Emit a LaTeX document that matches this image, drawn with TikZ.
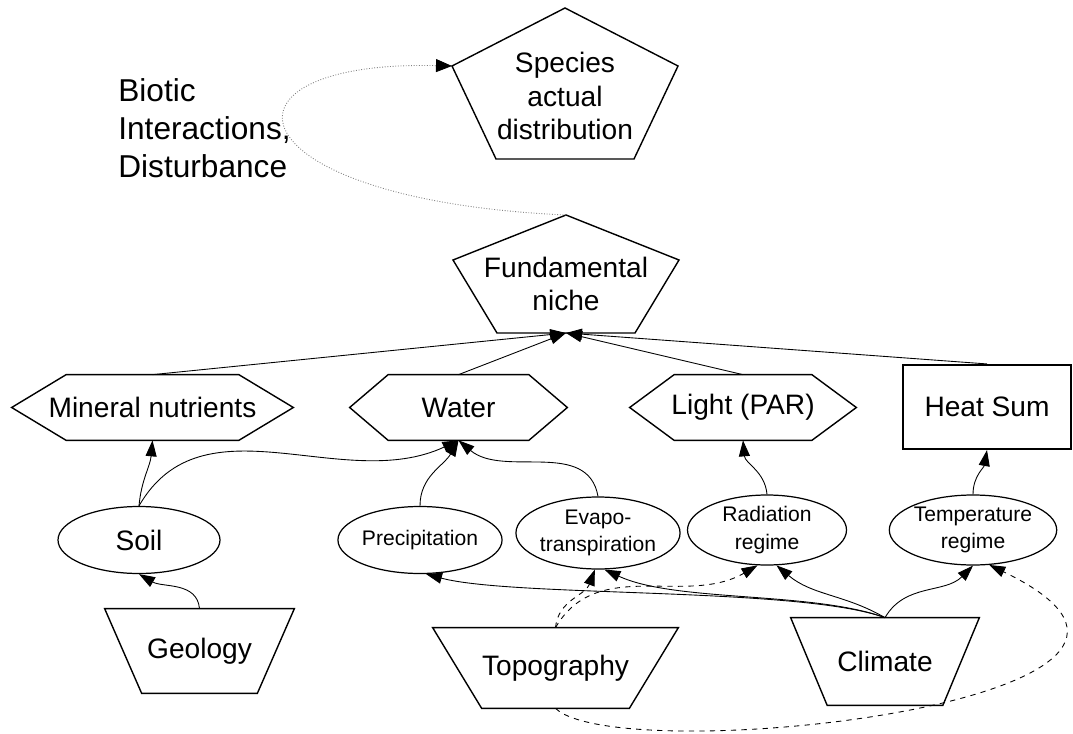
\documentclass[tikz,border=0pt]{standalone}
\usepackage{fontspec}
\setmainfont{Liberation Sans}
\usetikzlibrary{arrows.meta, shapes.geometric}

\begin{document}
\begin{tikzpicture}[
    >={Triangle[length=3.2mm, width=2.2mm]},
    every node/.style={inner sep=0pt},
    outline/.style={draw, line width=0.8pt},
    box/.style={align=center, font=\fontsize{16}{19}\selectfont},
    oval/.style={draw, line width=0.7pt, ellipse, align=center, font=\fontsize{12}{15.5}\selectfont},
    link/.style={->, line width=0.5pt},
    dlink/.style={->, line width=0.5pt, dashed},
    biotic/.style={-{Triangle[length=3.2mm, width=2.6mm, black]}, gray, densely dotted, line width=0.5pt},
]
    \useasboundingbox (0,0) rectangle (21.46,14.66);

    % Top: actual distribution and niche (pentagons)
    \node[box] (spec) at (11.30, 12.74) {Species\\actual\\distribution};
    \draw[outline, shift={(spec)}] (0,1.76) -- (2.26,0.60) -- (1.38,-1.26) -- (-1.38,-1.26) -- (-2.26,0.60) -- cycle;
    \coordinate (spec-l) at ([shift={(-2.26,0.60)}]spec.center);

    \node[box] (fund) at (11.32, 8.98) {Fundamental\\niche};
    \draw[outline, shift={(fund)}] (0,1.38) -- (2.26,0.48) -- (1.38,-0.98) -- (-1.38,-0.98) -- (-2.26,0.48) -- cycle;
    \coordinate (fund-t) at ([shift={(0,1.38)}]fund.center);
    \coordinate (fund-b) at ([shift={(0,-0.98)}]fund.center);

    \node[box, anchor=west, align=left, font=\fontsize{18}{21.5}\selectfont] (bio) at (2.36, 12.10) {Biotic\\Interactions,\\Disturbance};

    % Resources (hexagons + rectangle)
    \node[box, minimum width=5.62cm, minimum height=1.30cm] (min) at (3.05, 6.51) {Mineral nutrients};
    \node[box, minimum width=4.34cm, minimum height=1.30cm] (water) at (9.17, 6.51) {Water};
    \node[box, minimum width=4.52cm, minimum height=1.30cm] (light) at (14.86, 6.51) {Light (PAR)};
    \foreach \n/\d in {min/1.09, water/0.77, light/0.89}
        \draw[outline] (\n.west) -- ([xshift=\d cm]\n.north west) -- ([xshift=-\d cm]\n.north east) -- (\n.east)
            -- ([xshift=-\d cm]\n.south east) -- ([xshift=\d cm]\n.south west) -- cycle;
    \node[box, draw, line width=1.2pt, minimum width=3.36cm, minimum height=1.68cm] (heat) at (19.74, 6.52) {Heat Sum};

    % Intermediate factors
    \node[oval, font=\fontsize{16}{19}\selectfont, minimum width=3.24cm, minimum height=1.34cm] (soil) at (2.78, 3.86) {Soil};
    \node[oval, minimum width=3.20cm, minimum height=1.34cm] (prec) at (8.40, 3.86) {Precipitation};
    \node[oval, minimum width=3.20cm, minimum height=1.44cm] (evap) at (11.96, 4.00) {Evapo-\\transpiration};
    \node[oval, minimum width=3.18cm, minimum height=1.40cm] (rad) at (15.34, 4.06) {Radiation\\regime};
    \node[oval, minimum width=3.22cm, minimum height=1.40cm] (temp) at (19.46, 4.06) {Temperature\\regime};

    % Drivers (trapezia)
    \node[box, minimum width=3.78cm, minimum height=1.68cm] (geo) at (3.99, 1.64) {Geology};
    \node[box, minimum width=4.90cm, minimum height=1.60cm] (topo) at (11.11, 1.30) {Topography};
    \node[box, minimum width=3.76cm, minimum height=1.74cm] (clim) at (17.70, 1.43) {Climate};
    \foreach \n/\d in {geo/0.74, topo/0.98, clim/0.73}
        \draw[outline] (\n.north west) -- (\n.north east) -- ([xshift=-\d cm]\n.south east)
            -- ([xshift=\d cm]\n.south west) -- cycle;

    % Arrows into the niche
    \draw[biotic] (fund-t) .. controls (4.60,10.66) and (4.00,13.46) .. (spec-l);
    \draw[link] (min.north) -- (fund-b);
    \draw[link] (water.north) -- (fund-b);
    \draw[link] (light.north) -- (fund-b);
    \draw[link] (heat.north) -- (fund-b);

    % Factors to resources
    \draw[link] (soil.north) to[out=85, in=-95] (min.south);
    \draw[link] (soil.north) to[out=60, in=-155] (water.south);
    \draw[link] (prec.north) to[out=90, in=-120] (water.south);
    \draw[link] (evap.north) to[out=100, in=-40] (water.south);
    \draw[link] (rad.north) to[out=95, in=-85] (light.south);
    \draw[link] (temp.north) to[out=90, in=-100] (heat.south);

    % Drivers to factors
    \draw[link] (geo.north) to[out=95, in=-30] (soil.south);
    \draw[link] (clim.north) to[out=160, in=-15, looseness=0.5] (prec.-80);
    \draw[link] (clim.north) to[out=160, in=-25, looseness=0.7] (evap.-80);
    \draw[link] (clim.north) to[out=150, in=-40] (rad.-75);
    \draw[link] (clim.north) to[out=60, in=-135] (temp.south);
    \draw[dlink] (topo.north) to[out=85, in=-110] (evap.-95);
    \draw[dlink] (topo.north) to[out=60, in=-150] (rad.-105);
    \draw[dlink] (topo.south) .. controls (12.40,-0.74) and (25.40,0.66) .. (temp.-65);
\end{tikzpicture}
\end{document}
